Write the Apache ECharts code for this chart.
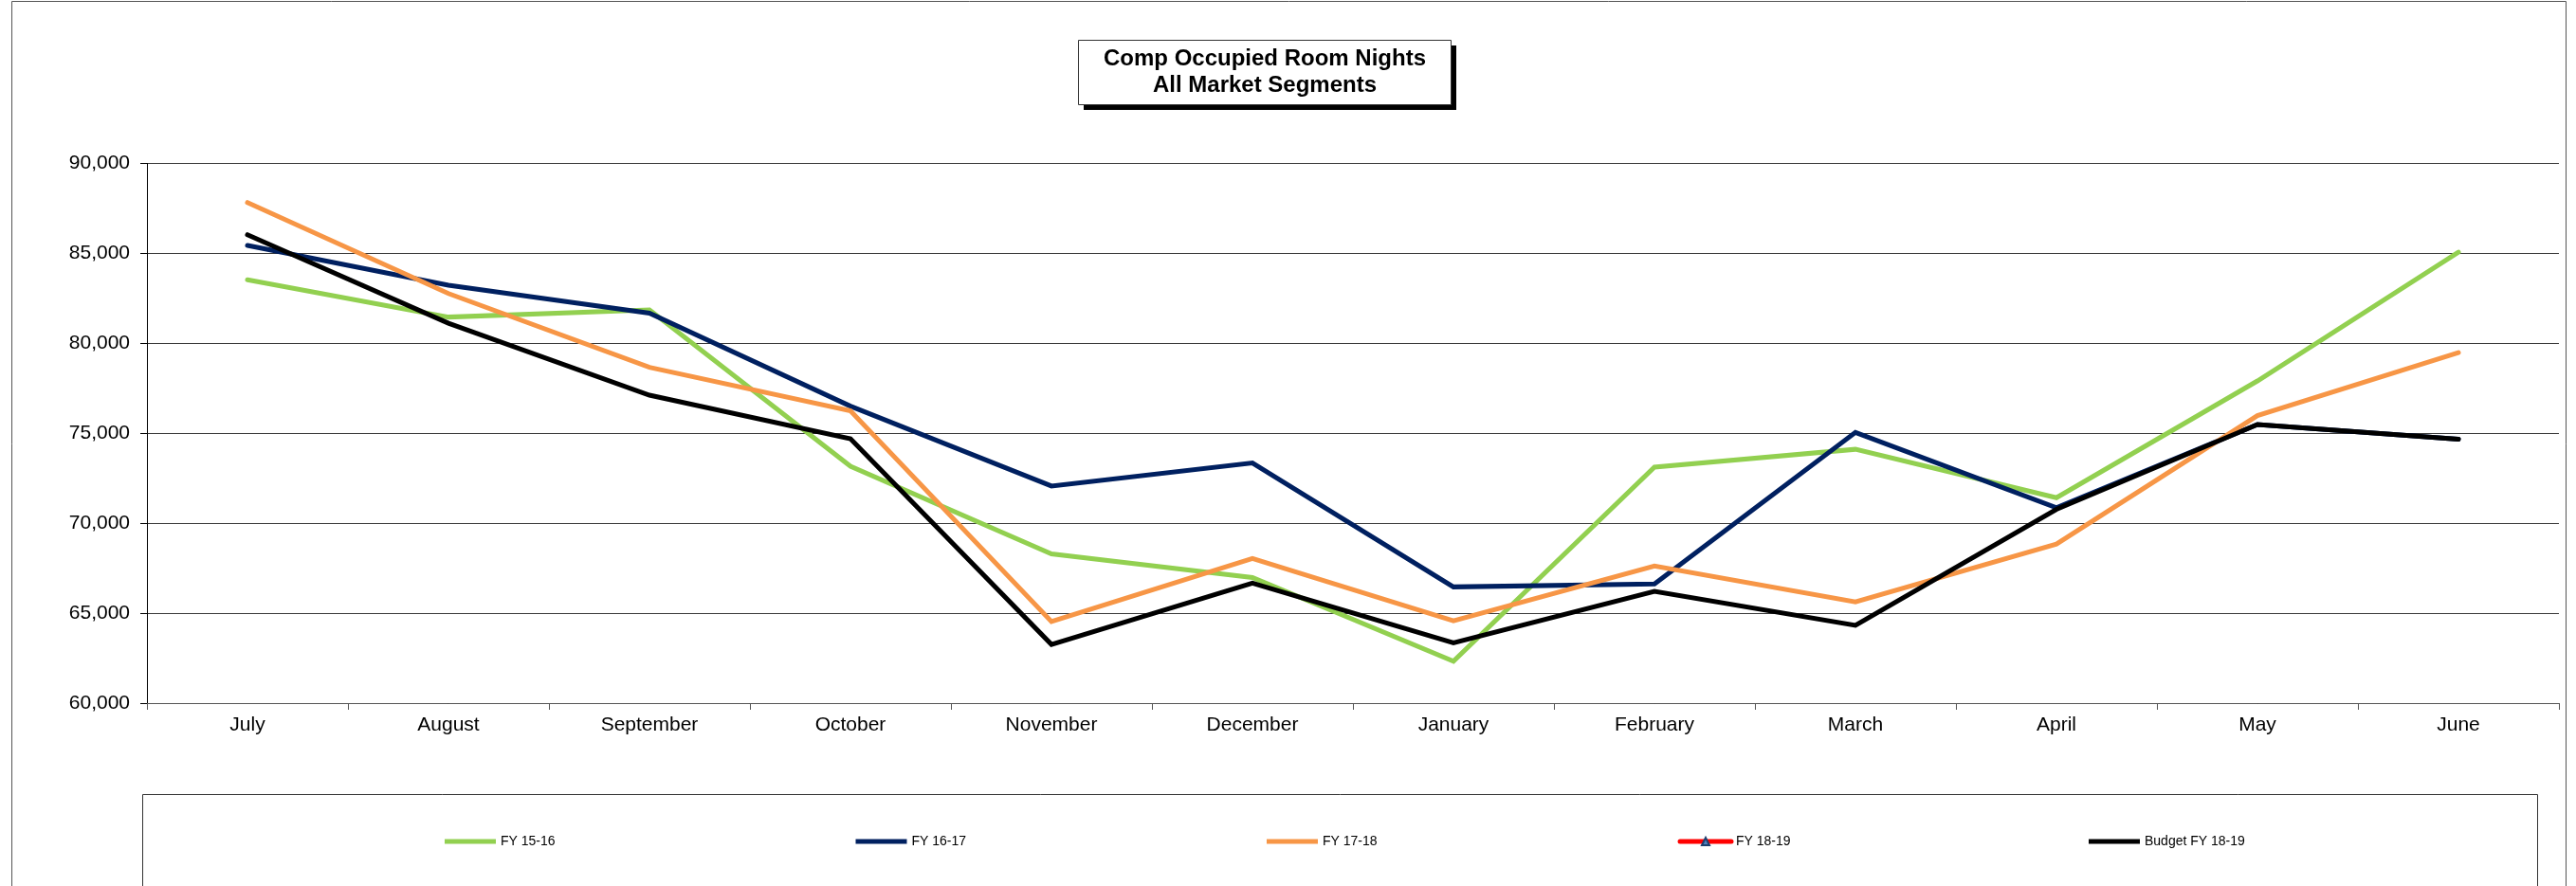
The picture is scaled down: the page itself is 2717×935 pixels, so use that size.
<!DOCTYPE html>
<html>
<head>
<meta charset="utf-8">
<title>Comp Occupied Room Nights</title>
<script src="https://cdn.jsdelivr.net/npm/echarts@6/dist/echarts.min.js"></script>
<style>
  html, body { margin: 0; padding: 0; background: #ffffff; }
  #chart { width: 2717px; height: 935px; }
</style>
</head>
<body>
<div id="chart"></div>
<script>
// Fiscal-year months (July through June)
const months = ['July', 'August', 'September', 'October', 'November', 'December',
                'January', 'February', 'March', 'April', 'May', 'June'];

// Occupied room nights per month
const fy1516 = [83530, 81460, 81860, 73170, 68300, 66980, 62330, 73120, 74110, 71420, 77910, 85070];
const fy1617 = [85440, 83230, 81680, 76510, 72070, 73350, 66460, 66630, 75050, 70860, 75490, 74670];
const fy1718 = [87830, 82770, 78670, 76250, 64530, 68040, 64580, 67620, 65630, 68840, 75980, 79490];
const fy1819 = [];
const budget1819 = [86040, 81120, 77120, 74700, 63260, 66670, 63350, 66210, 64320, 70770, 75490, 74670];

const seriesNames = ['FY 15-16', 'FY 16-17', 'FY 17-18', 'FY 18-19', 'Budget FY 18-19'];
const yTicks = { min: 60000, max: 90000, step: 5000 };

const FONT = '"Liberation Sans", Arial, Helvetica, sans-serif';

const chart = echarts.init(document.getElementById('chart'), null, { renderer: 'canvas' });

function lineSeries(name, data, color, extra) {
  return Object.assign({
    name: name,
    type: 'line',
    data: data,
    symbol: 'none',
    smooth: false,
    lineStyle: { color: color, width: 5, cap: 'round', join: 'miter' },
    itemStyle: { color: color },
    emphasis: { disabled: true },
    animation: false
  }, extra || {});
}

// One legend block per series so the entries sit on an even spacing.
// Plain series get a flat bar icon; the marker series keeps its line + triangle.
// Each block is as tall as its 14px label, so its top sits half a label above the row middle.
const legendStart = 469;
const legendStep = 433.5;
const legendMid = 889;
const legendFont = 14;
const legends = seriesNames.map((n, i) => {
  const withMarker = n === 'FY 18-19';
  const lg = {
    data: [withMarker ? { name: n } : { name: n, icon: 'rect' }],
    left: legendStart + i * legendStep,
    top: legendMid - 8,
    padding: 0,
    itemWidth: 54,
    itemHeight: withMarker ? 10 : 5,
    itemGap: 0,
    selectedMode: false,
    textStyle: { fontFamily: FONT, fontSize: legendFont, color: '#000000', padding: [0, 0, 0, 0] }
  };
  if (withMarker) {
    lg.lineStyle = { width: 5 };
  }
  return lg;
});

const option = {
  backgroundColor: '#ffffff',
  animation: false,
  legend: legends,
  grid: { left: 155, right: 18, top: 172.5, bottom: 193, containLabel: false },
  xAxis: {
    type: 'category',
    data: months,
    boundaryGap: true,
    axisLine: { show: true, lineStyle: { color: '#555555', width: 1 } },
    axisTick: { show: true, alignWithLabel: false, length: 7, lineStyle: { color: '#555555', width: 1 } },
    axisLabel: { color: '#000000', fontFamily: FONT, fontSize: 21, margin: 13 },
    splitLine: { show: false }
  },
  yAxis: {
    type: 'value',
    min: yTicks.min,
    max: yTicks.max,
    interval: yTicks.step,
    axisLine: { show: true, lineStyle: { color: '#000000', width: 1 } },
    axisTick: { show: true, length: 7, lineStyle: { color: '#000000', width: 1 } },
    axisLabel: {
      color: '#000000', fontFamily: FONT, fontSize: 21, margin: 18,
      formatter: v => v.toLocaleString('en-US')
    },
    splitLine: { show: true, lineStyle: { color: '#3a3a3a', width: 1 } }
  },
  series: [
    lineSeries(seriesNames[0], fy1516, '#92D050'),
    lineSeries(seriesNames[1], fy1617, '#002060'),
    lineSeries(seriesNames[2], fy1718, '#F79646'),
    lineSeries(seriesNames[3], fy1819, '#FF0000', {
      symbol: 'triangle',
      symbolSize: 8,
      itemStyle: { color: '#4F81BD', borderColor: '#1F3F6F', borderWidth: 1 }
    }),
    lineSeries(seriesNames[4], budget1819, '#000000')
  ],
  graphic: [
    // outer chart border
    { type: 'rect', silent: true, z: -10,
      shape: { x: 12.5, y: 1.5, width: 2694, height: 1000 },
      style: { fill: 'none', stroke: '#555555', lineWidth: 1 } },
    // legend frame
    { type: 'rect', silent: true, z: -10,
      shape: { x: 150.5, y: 838.5, width: 2526, height: 200 },
      style: { fill: 'none', stroke: '#333333', lineWidth: 1 } },
    // title box with drop shadow
    { type: 'rect', silent: true, z: 10,
      shape: { x: 1143, y: 48, width: 393, height: 68 },
      style: { fill: '#000000' } },
    { type: 'rect', silent: true, z: 11,
      shape: { x: 1137.5, y: 42.5, width: 393, height: 68 },
      style: { fill: '#ffffff', stroke: '#333333', lineWidth: 1 } },
    { type: 'text', silent: true, z: 12,
      x: 1334, y: 62,
      style: { text: 'Comp Occupied Room Nights', fontFamily: FONT, fontSize: 24, fontWeight: 'bold',
               fill: '#000000', align: 'center', verticalAlign: 'middle' } },
    { type: 'text', silent: true, z: 12,
      x: 1334, y: 90,
      style: { text: 'All Market Segments', fontFamily: FONT, fontSize: 24, fontWeight: 'bold',
               fill: '#000000', align: 'center', verticalAlign: 'middle' } }
  ]
};

chart.setOption(option);
</script>
</body>
</html>
